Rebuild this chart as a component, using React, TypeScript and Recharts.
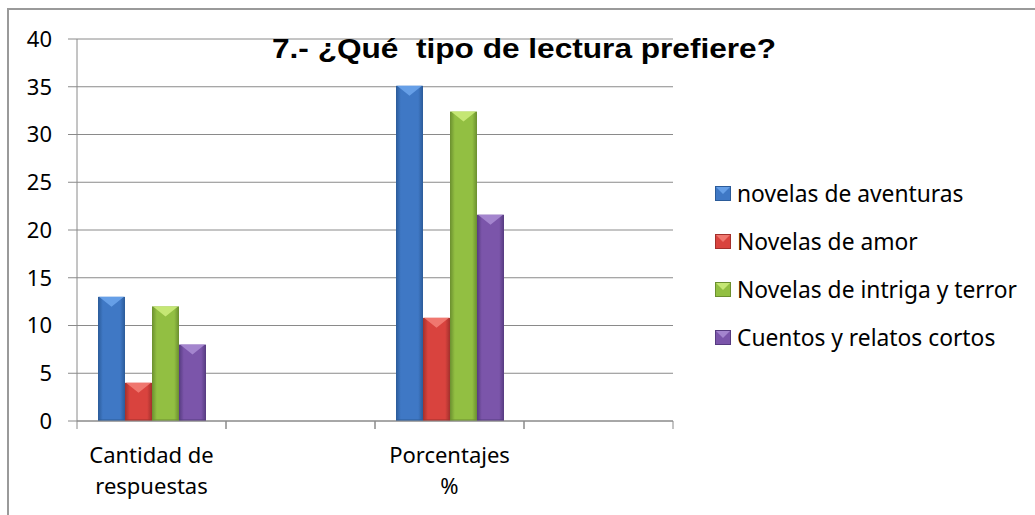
import { BarChart, Bar, XAxis, YAxis, CartesianGrid, Legend } from "recharts";

const categories = ["Cantidad de\nrespuestas", "", "Porcentajes\n%", " "];
const yTicks = [0, 5, 10, 15, 20, 25, 30, 35, 40];

const aventuras = [13, null, 35.1, null];
const amor = [4, null, 10.8, null];
const intriga = [12, null, 32.4, null];
const cuentos = [8, null, 21.6, null];

const seriesNames = [
    "novelas de aventuras",
    "Novelas de amor",
    "Novelas de intriga y terror",
    "Cuentos y relatos cortos",
];
const seriesValues = [aventuras, amor, intriga, cuentos];
const seriesKeys = ["aventuras", "amor", "intriga", "cuentos"];

const title = "7.- ¿Qué  tipo de lectura prefiere?";

// dark edge, body, highlight for each series
const palette = [
    ["#2b5b99", "#3f78c5", "#6aa3ea"],
    ["#a2302c", "#d9433e", "#f27d74"],
    ["#6b8f2f", "#92bf42", "#cbeb7a"],
    ["#563b80", "#7b55aa", "#a98bd2"],
];

const data = categories.map((cat, i) => {
    const row: Record<string, string | number | null> = { cat };
    seriesKeys.forEach((k, s) => {
        row[k] = seriesValues[s][i];
    });
    return row;
});

const FONT = "'Noto Sans', sans-serif";
const GRID = "#8a8a8a";
const SLOT = 149;

const makeBar = (s: number) => (props: any) => {
    const { x, y, width, height } = props;
    if (!height || height <= 0) return <g />;
    const bevel = Math.min(10, height);
    return (
        <g>
            <rect x={x} y={y} width={width} height={height} fill={`url(#bar${s})`} />
            <polygon
                points={`${x + 1},${y} ${x + width - 1},${y} ${x + width / 2},${y + bevel}`}
                fill={palette[s][2]}
                opacity={0.9}
            />
            <rect x={x} y={y + height - 2} width={width} height={2} fill={palette[s][0]} opacity={0.5} />
        </g>
    );
};

const CatTick = (props: any) => {
    const { x, y, payload } = props;
    const lines = String(payload.value).split("\n");
    const h = SLOT / 2;
    return (
        <g>
            <line x1={x - h} x2={x - h} y1={y} y2={y + 8} stroke={GRID} />
            <line x1={x + h} x2={x + h} y1={y} y2={y + 8} stroke={GRID} />
            {lines.map((t, i) => (
                <text
                    key={i}
                    x={x}
                    y={y + 42 + i * 31}
                    textAnchor="middle"
                    fontFamily={FONT}
                    fontSize={22}
                    fill="#000"
                >
                    {t.trim()}
                </text>
            ))}
        </g>
    );
};

const renderLegend = () => (
    <div style={{ fontFamily: FONT, fontSize: 22.8, color: "#000" }}>
        {seriesNames.map((name, s) => (
            <div key={name} style={{ display: "flex", alignItems: "center", height: 48 }}>
                <svg width={17} height={15} style={{ marginRight: 5 }}>
                    <rect x={0.5} y={0.5} width={15} height={14} fill={palette[s][1]} stroke={palette[s][0]} />
                    <polygon points="1,1 15,1 8,8" fill={palette[s][2]} opacity={0.9} />
                </svg>
                <span>{name}</span>
            </div>
        ))}
    </div>
);

export default function App() {
    return (
        <div style={{ position: "absolute", left: 0, top: 0, width: 1035, height: 515, background: "#fff" }}>
            <div
                style={{
                    position: "absolute",
                    left: 7,
                    top: 8,
                    width: 1030,
                    height: 510,
                    borderTop: "2px solid #9a9a9a",
                    borderLeft: "2px solid #9a9a9a",
                }}
            />
            <div style={{ position: "absolute", left: 0, top: 0 }}>
                <BarChart
                    width={1035}
                    height={515}
                    data={data}
                    margin={{ top: 39, right: 362, bottom: 0, left: 0 }}
                    barGap={0}
                    barSize={27}
                >
                    <defs>
                        {palette.map((c, s) => (
                            <linearGradient key={s} id={`bar${s}`} x1="0" y1="0" x2="1" y2="0">
                                <stop offset="0%" stopColor={c[0]} />
                                <stop offset="18%" stopColor={c[1]} />
                                <stop offset="50%" stopColor={c[1]} />
                                <stop offset="82%" stopColor={c[1]} />
                                <stop offset="100%" stopColor={c[0]} />
                            </linearGradient>
                        ))}
                    </defs>
                    <CartesianGrid vertical={false} stroke={GRID} />
                    <XAxis
                        dataKey="cat"
                        height={94}
                        axisLine={{ stroke: GRID }}
                        tickLine={false}
                        tickSize={0}
                        tickMargin={0}
                        interval={0}
                        tick={<CatTick />}
                    />
                    <YAxis
                        width={77}
                        domain={[0, 40]}
                        ticks={yTicks}
                        interval={0}
                        axisLine={{ stroke: GRID }}
                        tickLine={{ stroke: GRID }}
                        tickSize={9}
                        tickMargin={16}
                        tick={{ fontFamily: FONT, fontSize: 22, fill: "#000" }}
                    />
                    <Legend
                        layout="vertical"
                        align="center"
                        verticalAlign="middle"
                        content={renderLegend}
                        wrapperStyle={{ left: 715, top: 169, width: 315 }}
                    />
                    {seriesKeys.map((k, s) => (
                        <Bar
                            key={k}
                            dataKey={k}
                            name={seriesNames[s]}
                            fill={palette[s][1]}
                            shape={makeBar(s)}
                            isAnimationActive={false}
                        />
                    ))}
                </BarChart>
            </div>
            <svg width={1035} height={515} style={{ position: "absolute", left: 0, top: 0, pointerEvents: "none" }}>
                <text
                    x={524}
                    y={58}
                    textAnchor="middle"
                    fontFamily="'Liberation Sans', Arial, sans-serif"
                    fontWeight="bold"
                    fontSize={28}
                    textLength={504}
                    lengthAdjust="spacingAndGlyphs"
                    fill="#000"
                    style={{ whiteSpace: "pre" }}
                >
                    {title}
                </text>
            </svg>
        </div>
    );
}
